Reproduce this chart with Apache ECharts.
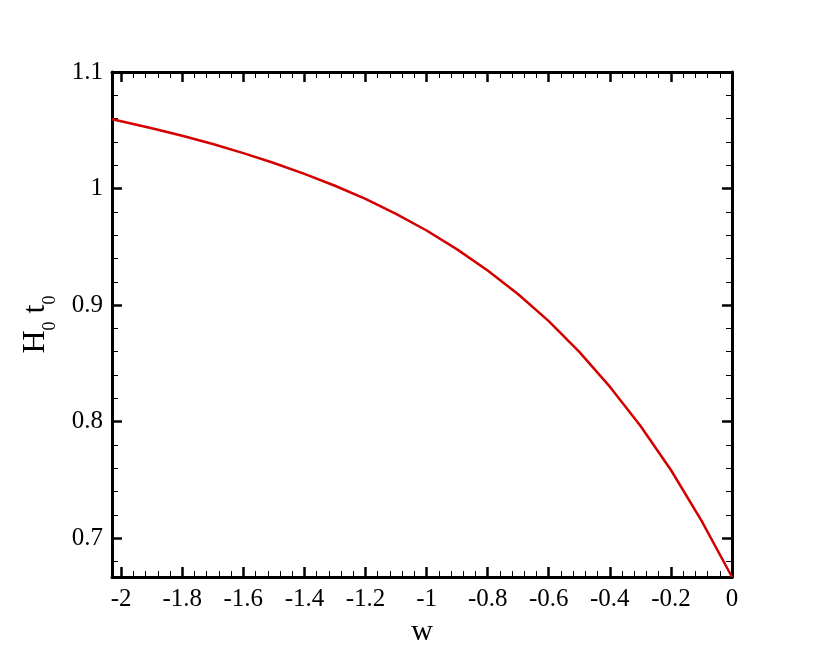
<!DOCTYPE html>
<html>
<head>
<meta charset="utf-8">
<script src="https://cdn.jsdelivr.net/npm/echarts@6/dist/echarts.min.js"></script>
<style>
  html, body { margin: 0; padding: 0; background: #fff; }
  #main { width: 830px; height: 664px; }
</style>
</head>
<body>
<div id="main"></div>
<script>
// equation of state w  ->  H0 t0
var wValues = [-2.03, -2.0, -1.9, -1.8, -1.7, -1.6, -1.5, -1.4, -1.3, -1.2, -1.1,
  -1.0, -0.9, -0.8, -0.7, -0.6, -0.5, -0.4, -0.3, -0.2, -0.1, 0];
var h0t0Values = [1.0594, 1.0577, 1.0518, 1.0453, 1.0382, 1.0304, 1.0219, 1.0126, 1.0024, 0.9911, 0.9783,
  0.9640, 0.9478, 0.9297, 0.9093, 0.8862, 0.8598, 0.8300, 0.7965, 0.7585, 0.7150, 0.6667];

// tick labels
var xMajorTicks = [-2, -1.8, -1.6, -1.4, -1.2, -1, -0.8, -0.6, -0.4, -0.2, 0];
var yMajorTicks = [0.7, 0.8, 0.9, 1, 1.1];

var xMin = -2.03, xMax = 0;
var yMin = 0.6667, yMax = 1.1;

// minor ticks between the major ones
function minorTicks(majors, step, lo, hi) {
  var out = [];
  var start = Math.ceil(lo / step - 1e-9);
  var end = Math.floor(hi / step + 1e-9);
  for (var i = start; i <= end; i++) {
    var v = Math.round(i * step * 1000) / 1000;
    var isMajor = majors.some(function (m) { return Math.abs(m - v) < 1e-6; });
    if (!isMajor) out.push(v);
  }
  return out;
}
var xMinorTicks = minorTicks(xMajorTicks, 0.04, xMin, xMax);
var yMinorTicks = minorTicks(yMajorTicks, 0.02, yMin, yMax);

var serif = 'Liberation Serif';

function makeAxis(pos, lo, hi, ticks, major, showLabel, extra) {
  var ax = {
    type: 'value',
    position: pos,
    min: lo,
    max: hi,
    splitLine: { show: false },
    axisLine: { show: major, onZero: false, lineStyle: { color: '#000', width: 3 } },
    axisTick: {
      show: true,
      inside: true,
      customValues: ticks,
      length: major ? 10 : 6,
      lineStyle: { color: '#000', width: major ? 2.5 : 1 }
    },
    axisLabel: showLabel ? {
      customValues: ticks,
      color: '#000',
      fontFamily: serif,
      fontSize: 25
    } : { show: false }
  };
  return Object.assign(ax, extra || {});
}

var chart = echarts.init(document.getElementById('main'));
chart.setOption({
  backgroundColor: '#fff',
  animation: false,
  grid: { left: 112, right: 98, top: 72, bottom: 87 },
  xAxis: [
    makeAxis('bottom', xMin, xMax, xMajorTicks, true, true, {
      name: 'w',
      nameLocation: 'middle',
      nameGap: 37,
      nameTextStyle: { color: '#000', fontFamily: serif, fontSize: 30 },
      axisLabel: { customValues: xMajorTicks, color: '#000', fontFamily: serif, fontSize: 25, margin: 10 }
    }),
    makeAxis('bottom', xMin, xMax, xMinorTicks, false, false),
    makeAxis('top', xMin, xMax, xMajorTicks, true, false),
    makeAxis('top', xMin, xMax, xMinorTicks, false, false)
  ],
  yAxis: [
    makeAxis('left', yMin, yMax, yMajorTicks, true, true, {
      name: '{h|H}{s|0}{h| t}{s|0}',
      nameLocation: 'middle',
      nameGap: 53,
      nameRotate: 90,
      nameTextStyle: {
        rich: {
          h: { fontFamily: serif, fontSize: 32, color: '#000', verticalAlign: 'top' },
          s: { fontFamily: serif, fontSize: 18, color: '#000', verticalAlign: 'top', padding: [21, 0, 0, 0] }
        }
      },
      axisLabel: { customValues: yMajorTicks, color: '#000', fontFamily: serif, fontSize: 25, margin: 9 }
    }),
    makeAxis('left', yMin, yMax, yMinorTicks, false, false),
    makeAxis('right', yMin, yMax, yMajorTicks, true, false),
    makeAxis('right', yMin, yMax, yMinorTicks, false, false)
  ],
  series: [{
    type: 'line',
    xAxisIndex: 0,
    yAxisIndex: 0,
    data: wValues.map(function (w, i) { return [w, h0t0Values[i]]; }),
    showSymbol: false,
    smooth: false,
    clip: true,
    lineStyle: { color: '#d40000', width: 2.5 }
  }]
});
</script>
</body>
</html>
